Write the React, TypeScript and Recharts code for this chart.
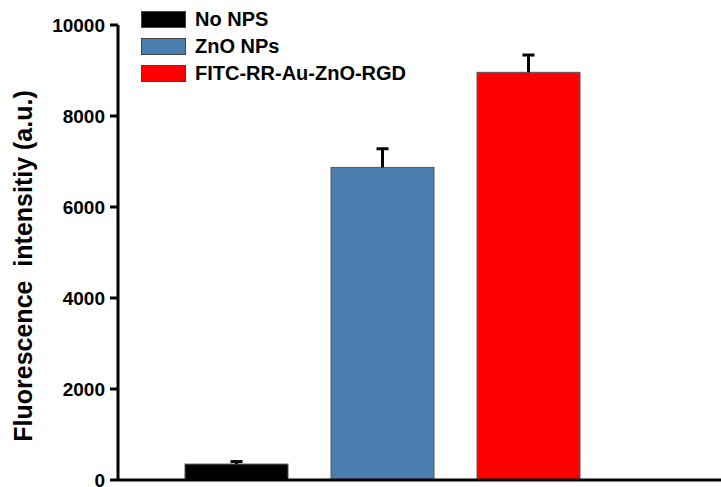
import { BarChart, Bar, XAxis, YAxis, Legend, Cell } from 'recharts'

const groups = ['No NPS', 'ZnO NPs', 'FITC-RR-Au-ZnO-RGD']
const intensity = [350, 6870, 8960]
const errors = [55, 410, 380]
const colors = ['#000000', '#4A7EAE', '#FF0000']
const yTicks = [0, 2000, 4000, 6000, 8000, 10000]

const data = groups.map((name, i) => ({
  name,
  value: intensity[i],
  err: errors[i],
}))

const font = '"Liberation Sans", Arial, sans-serif'

// bar with a one-sided (upper) error bar drawn on top
const BarWithError = (props: any) => {
  const { x, y, width, height, fill, payload } = props
  const errPx = payload.value ? (payload.err * height) / payload.value : 0
  const cx = x + width / 2
  const top = y - errPx
  return (
    <g>
      <rect x={x} y={y} width={width} height={height} fill={fill} stroke="#555" strokeWidth={1} />
      <line x1={cx} y1={y} x2={cx} y2={top} stroke="#000" strokeWidth={3} />
      <line x1={cx - 6} y1={top} x2={cx + 6} y2={top} stroke="#000" strokeWidth={3} />
    </g>
  )
}

const LegendBox = () => (
  <div style={{ fontFamily: font, fontWeight: 'bold', fontSize: 20 }}>
    {groups.map((g, i) => (
      <div key={g} style={{ display: 'flex', alignItems: 'center', height: 27 }}>
        <div
          style={{
            width: 45,
            height: 17,
            background: colors[i],
            border: '1px solid #444',
            boxSizing: 'border-box',
            marginRight: 9,
          }}
        />
        <span style={{ color: '#000', whiteSpace: 'nowrap' }}>{g}</span>
      </div>
    ))}
  </div>
)

export default function App() {
  return (
    <div style={{ position: 'absolute', left: 0, top: 0, background: '#fff' }}>
      <BarChart
        width={721}
        height={487}
        data={data}
        margin={{ top: 25, right: 0, bottom: 5, left: 0 }}
      >
        <XAxis
          dataKey="name"
          tick={false}
          tickLine={false}
          height={2}
          padding={{ left: 45, right: 120 }}
          axisLine={{ stroke: '#000', strokeWidth: 3 }}
        />
        <YAxis
          width={118}
          domain={[0, 10000]}
          ticks={yTicks}
          interval={0}
          tickSize={8}
          tickMargin={5}
          axisLine={{ stroke: '#000', strokeWidth: 3 }}
          tickLine={{ stroke: '#000', strokeWidth: 3 }}
          tick={{ fill: '#000', fontSize: 19, fontWeight: 'bold', fontFamily: font }}
          label={{
            content: () => (
              <text
                x={32}
                y={266}
                transform="rotate(-90 32 266)"
                textAnchor="middle"
                fill="#000"
                fontSize={25}
                fontWeight="bold"
                fontFamily={font}
                style={{ whiteSpace: 'pre' }}
              >
                {'Fluorescence  intensitiy (a.u.)'}
              </text>
            ),
          }}
        />
        <Legend
          layout="vertical"
          align="center"
          verticalAlign="middle"
          wrapperStyle={{ top: 6, left: 141 }}
          content={() => <LegendBox />}
        />
        <Bar dataKey="value" barSize={103} shape={<BarWithError />} isAnimationActive={false}>
          {data.map((d, i) => (
            <Cell key={d.name} fill={colors[i]} />
          ))}
        </Bar>
      </BarChart>
    </div>
  )
}
